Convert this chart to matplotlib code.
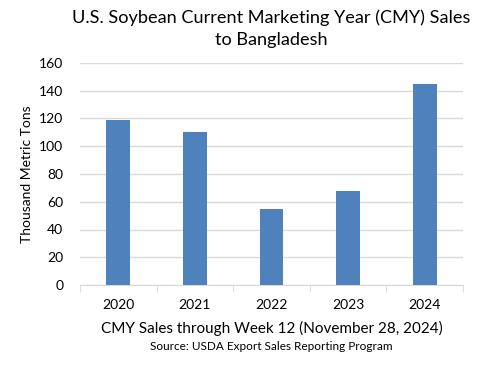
import matplotlib
matplotlib.use("Agg")
import matplotlib.pyplot as plt
import numpy as np

years = ["2020", "2021", "2022", "2023", "2024"]
sales = [119, 110, 55, 68, 145]

plt.rcParams['font.family'] = ['Lato', 'DejaVu Sans']

fig = plt.figure(figsize=(4.9, 3.7), dpi=100)
ax = fig.add_axes([80/490, 85/370, 383/490, 222/370])

x = np.arange(len(years))
ax.bar(x, sales, width=0.31, color="#4f81bd", zorder=3)

ax.set_xlim(-0.5, len(years) - 0.5)
ax.set_ylim(0, 160)
ax.set_yticks(np.arange(0, 161, 20))
ax.yaxis.grid(True, color="#d9d9d9", linewidth=1, zorder=0)
for s in ["top", "right", "left"]:
    ax.spines[s].set_visible(False)
ax.spines["bottom"].set_color("#d9d9d9")
ax.tick_params(axis="y", length=0, labelsize=10, pad=12, colors="black")
ax.set_xticks(x)
ax.set_xticklabels(years, fontsize=10)
ax.tick_params(axis="x", length=0, pad=10)
ax.set_xticks(np.arange(-0.5, len(years)), minor=True)
ax.tick_params(axis="x", which="minor", length=5, color="#d9d9d9")

ax.set_ylabel("Thousand Metric Tons", fontsize=10)
ax.yaxis.set_label_coords(-47/383, 0.5)
fig.text(271.5/490, 1 - 29/370,
         "U.S. Soybean Current Marketing Year (CMY) Sales\nto Bangladesh",
         ha="center", va="center", fontsize=13.1, linespacing=1.45)
fig.text(271.5/490, 1 - 328/370, "CMY Sales through Week 12 (November 28, 2024)",
         ha="center", va="center", fontsize=11)
fig.text(271.5/490, 1 - 347/370, "Source: USDA Export Sales Reporting Program",
         ha="center", va="center", fontsize=8.5)

fig.savefig("out.png", dpi=100)
